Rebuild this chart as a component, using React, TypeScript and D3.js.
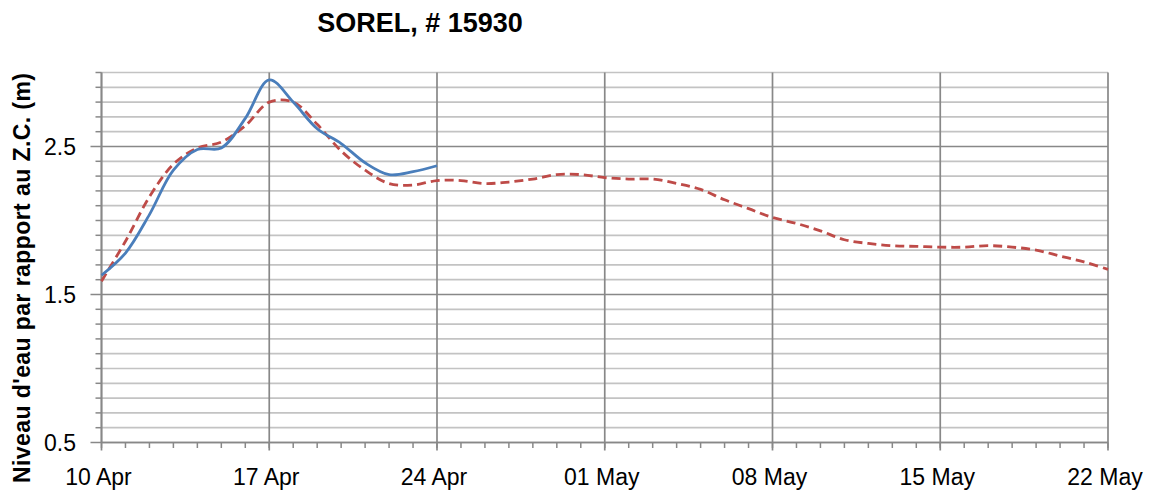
import React from "react";
import * as d3 from "d3";

const title = "SOREL, # 15930";
const yAxisTitle = "Niveau d'eau par rapport au Z.C. (m)";
const startDate = "2013-04-10";
const endDate = "2013-05-22";
const yTickValues = [0.5, 1.5, 2.5];
const observed = [1.63, 1.78, 2.04, 2.34, 2.48, 2.49, 2.69, 2.95, 2.8, 2.62, 2.52, 2.39, 2.31, 2.33, 2.37];
const forecast = [
  1.59, 1.86, 2.16, 2.38, 2.49, 2.53, 2.64, 2.8, 2.8, 2.65,
  2.47, 2.34, 2.25, 2.24, 2.27,
  2.27, 2.25, 2.26, 2.28, 2.31, 2.31,
  2.29, 2.28, 2.28, 2.25, 2.21, 2.14, 2.08, 2.02,
  1.98, 1.93, 1.87, 1.845, 1.83, 1.825, 1.82,
  1.82, 1.83, 1.82, 1.8, 1.76, 1.72, 1.67,
];

const W = 1152;
const H = 493;
const FONT = "'Liberation Sans', Arial, sans-serif";

export default function App() {
  const t0 = new Date(startDate + "T00:00:00Z");
  const t1 = new Date(endDate + "T00:00:00Z");
  const x = d3.scaleUtc().domain([t0, t1]).range([101.5, 1108]);
  const y = d3.scaleLinear().domain([0.5, 3.0]).range([442.5, 72.5]);

  const days = d3.utcDay.range(t0, d3.utcDay.offset(t1, 1));
  const weeks = days.filter((_, i) => i % 7 === 0);
  const minorY = d3.range(0, 26).map((i) => +(0.5 + i * 0.1).toFixed(2));
  const isMajor = (v: number) => yTickValues.some((m) => Math.abs(m - v) < 1e-6);
  const fmt = d3.utcFormat("%d %b");

  const line = d3
    .line<number>()
    .x((_, i) => x(days[i]))
    .y((d) => y(d))
    .curve(d3.curveCatmullRom.alpha(0.5));

  const left = x.range()[0];
  const right = x.range()[1];
  const bottom = y.range()[0];
  const top = y.range()[1];

  return (
    <svg width={W} height={H} style={{ position: "absolute", left: 0, top: 0, background: "#fff" }}>
      {/* minor horizontal grid */}
      {minorY.filter((v) => !isMajor(v)).map((v) => (
        <g key={"mg" + v}>
          <line x1={left} x2={right} y1={y(v)} y2={y(v)} stroke="#c3c3c3" strokeWidth={1.7} />
          <line x1={left - 6} x2={left} y1={y(v)} y2={y(v)} stroke="#888" strokeWidth={1.5} />
        </g>
      ))}
      {/* major horizontal grid */}
      {yTickValues.map((v) => (
        <g key={"Mg" + v}>
          <line x1={left - 11} x2={right} y1={y(v)} y2={y(v)} stroke="#888" strokeWidth={1.7} />
          <text
            x={76}
            y={y(v)}
            dy="0.35em"
            textAnchor="end"
            fontFamily={FONT}
            fontSize={23}
            fill="#000"
          >
            {v.toFixed(1)}
          </text>
        </g>
      ))}
      {/* vertical grid */}
      {weeks.map((d) => (
        <g key={"v" + d.toISOString()}>
          <line x1={x(d)} x2={x(d)} y1={top} y2={bottom + 8} stroke="#888" strokeWidth={1.7} />
          <text
            x={x(d) - 3}
            y={485}
            textAnchor="middle"
            fontFamily={FONT}
            fontSize={23}
            fill="#000"
          >
            {fmt(d)}
          </text>
        </g>
      ))}
      {/* minor x ticks */}
      {days.map((d) => (
        <line key={"t" + d.toISOString()} x1={x(d)} x2={x(d)} y1={bottom} y2={bottom + 5.5} stroke="#888" strokeWidth={1.5} />
      ))}
      {/* axes */}
      <line x1={left} x2={left} y1={top} y2={bottom} stroke="#888" strokeWidth={1.7} />
      <line x1={left} x2={right} y1={bottom} y2={bottom} stroke="#888" strokeWidth={1.7} />

      {/* series */}
      <path d={line(forecast) || ""} fill="none" stroke="#be4b48" strokeWidth={2.8} strokeDasharray="9,5" />
      <path d={line(observed) || ""} fill="none" stroke="#4a7ebb" strokeWidth={2.8} />

      {/* titles */}
      <text x={420} y={32} textAnchor="middle" fontFamily={FONT} fontWeight="bold" fontSize={27} fill="#000">
        {title}
      </text>
      <text
        transform={`translate(30,${278}) rotate(-90)`}
        textAnchor="middle"
        fontFamily={FONT}
        fontWeight="bold"
        fontSize={23}
        fill="#000"
        textLength={410}
        lengthAdjust="spacing"
      >
        {yAxisTitle}
      </text>
    </svg>
  );
}
